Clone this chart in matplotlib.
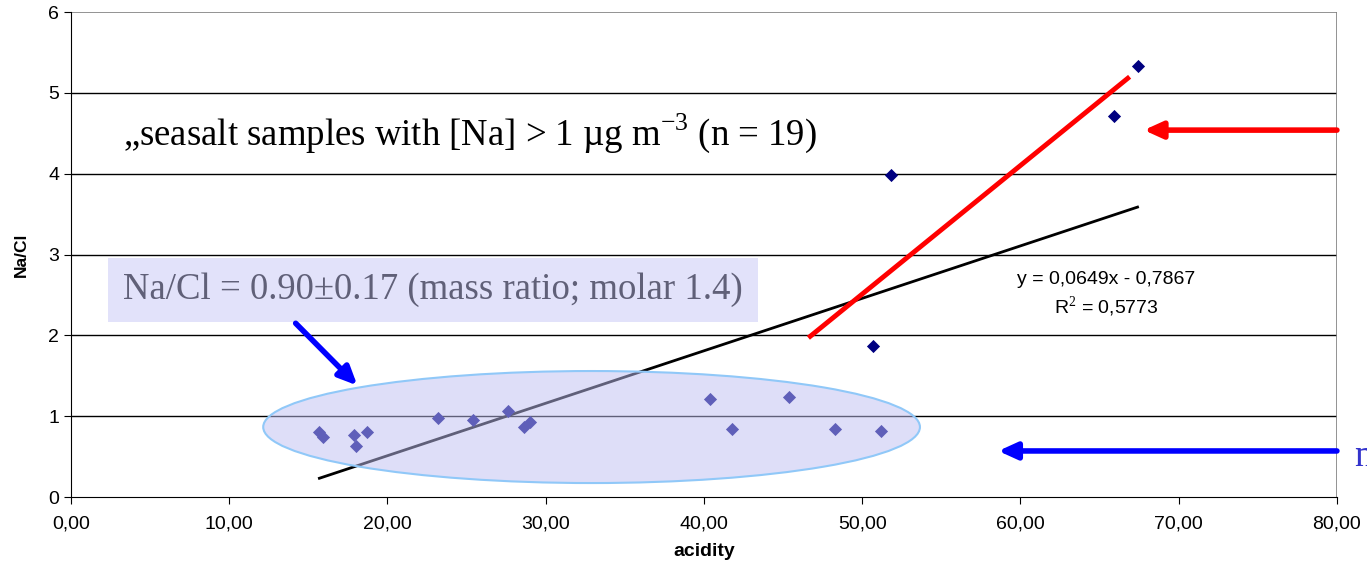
import numpy as np
import matplotlib.pyplot as plt
from matplotlib.patches import Ellipse

# samples with Na > 1 ug/m3
acidity = [67.4, 65.9, 51.8, 50.7,
           15.7, 15.9, 17.9, 18.0, 18.7, 23.2, 25.4, 27.6, 28.6, 29.0,
           40.4, 41.8, 45.4, 48.3, 51.2]
na_cl = [5.33, 4.71, 3.98, 1.87,
         0.80, 0.74, 0.77, 0.63, 0.80, 0.98, 0.95, 1.07, 0.87, 0.93,
         1.21, 0.84, 1.24, 0.84, 0.82]

# linear fit as printed on the chart
slope = 0.0649
intercept = -0.7867
fit_x = [min(acidity), max(acidity)]

# hand-drawn red line
red_x = [46.6, 66.9]
red_y = [1.97, 5.20]

xticks = np.arange(0, 81, 10)
yticks = np.arange(0, 7, 1)

plt.rcParams['font.family'] = ['Liberation Sans', 'DejaVu Sans']
plt.rcParams['mathtext.fontset'] = 'custom'
plt.rcParams['mathtext.rm'] = 'Liberation Serif'

fig = plt.figure(figsize=(13.67, 5.77), dpi=100)
ax = fig.add_axes([0.0519, 0.1386, 0.978 - 0.0519, 0.979 - 0.1386])

ax.set_xlim(0, 80)
ax.set_ylim(0, 6)
ax.set_xticks(xticks)
ax.set_xticklabels(['%d,00' % t for t in xticks])
ax.set_yticks(yticks)
ax.tick_params(labelsize=14, length=5, direction='out', colors='black')
ax.tick_params(axis='x', pad=8)

for y in yticks[1:-1]:
    ax.axhline(y, color='black', lw=1, zorder=1)
ax.axhline(6, color='#808080', lw=1.2, zorder=1)
ax.axvline(80, color='#808080', lw=1.2, zorder=1)

for s in ['top', 'right']:
    ax.spines[s].set_visible(False)
ax.spines['left'].set_color('black')
ax.spines['bottom'].set_color('black')

ax.set_xlabel('acidity', fontsize=14, fontweight='bold', labelpad=8)
ax.set_ylabel('Na/Cl', fontsize=12.5, fontweight='bold', labelpad=14)

ax.scatter(acidity, na_cl, marker='D', s=45, color='#000080', zorder=3, linewidths=0)
fit_y = [slope * x + intercept for x in fit_x]
ax.plot(fit_x, fit_y, color='black', lw=2, zorder=2)

ax.text(65.4, 2.5, 'y = 0,0649x - 0,7867\nR$^2$ = 0,5773', fontsize=14,
        ha='center', va='center', linespacing=1.3)

ell = Ellipse((32.9, 0.866), 41.5, 1.386, facecolor=(0.75, 0.75, 0.95, 0.5),
              edgecolor='#90c8f8', lw=1.5, zorder=4)
ax.add_patch(ell)

ax.plot(red_x, red_y, color='red', lw=3.5, zorder=5, solid_capstyle='butt')

ax.text(3.3, 4.5, '\u201eseasalt samples with [Na] > 1 \u00b5g m$^{{-}3}$ (n = 19)',
        fontsize=26.5, family='Liberation Serif', va='center', zorder=6)

ax.text(3.3, 2.56, 'Na/Cl = 0.90\u00b10.17 (mass ratio; molar 1.4)',
        fontsize=26.5, family='Liberation Serif', va='center', color='#606078',
        bbox=dict(boxstyle='square,pad=0.4', fc='#e2e2fa', ec='none'), zorder=6)

ax.annotate('', xy=(67.8, 4.54), xytext=(80, 4.54),
            arrowprops=dict(arrowstyle='-|>,head_length=1.1,head_width=0.5',
                            color='red', lw=4, shrinkA=0, shrinkB=0), zorder=6)
ax.annotate('', xy=(58.6, 0.57), xytext=(80, 0.57),
            arrowprops=dict(arrowstyle='-|>,head_length=1.1,head_width=0.5',
                            color='blue', lw=4, shrinkA=0, shrinkB=0), zorder=6)
ax.annotate('', xy=(18.1, 1.38), xytext=(14.2, 2.15),
            arrowprops=dict(arrowstyle='-|>,head_length=1.1,head_width=0.5',
                            color='blue', lw=4, shrinkA=0, shrinkB=0), zorder=6)

# label at the right edge, cut off in the original as well
ax.text(81.1, 0.5, 'n', fontsize=26.5, family='Liberation Serif', color='#3333cc',
        va='center', clip_on=False)

fig.savefig('out.png', dpi=100)
